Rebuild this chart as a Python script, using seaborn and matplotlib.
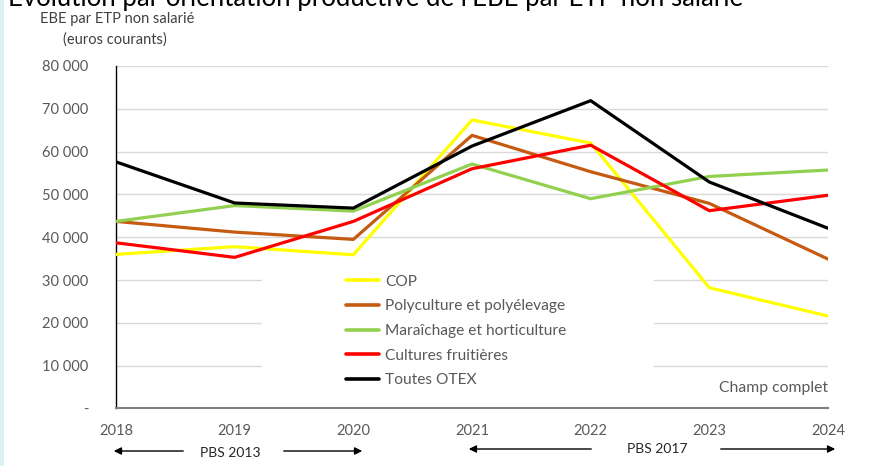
import matplotlib
matplotlib.use("Agg")
import matplotlib.pyplot as plt
import seaborn as sns
import pandas as pd
from matplotlib.patches import Rectangle
from matplotlib.ticker import FuncFormatter

years = [2018, 2019, 2020, 2021, 2022, 2023, 2024]
series_names = ["COP", "Polyculture et polyélevage", "Maraîchage et horticulture",
                "Cultures fruitières", "Toutes OTEX"]
cop = [36000, 37800, 35900, 67400, 62000, 28200, 21600]
polyculture = [43700, 41200, 39500, 63800, 55300, 47900, 34900]
maraichage = [43700, 47400, 46100, 57100, 49000, 54200, 55700]
fruits = [38700, 35300, 43700, 56000, 61500, 46200, 49800]
toutes = [57600, 48000, 46800, 61300, 71900, 52900, 42100]
colors = ["#FFFF00", "#C55A11", "#92D050", "#FF0000", "#000000"]

df = pd.DataFrame({"year": years * 5,
                   "serie": [n for n in series_names for _ in years],
                   "value": cop + polyculture + maraichage + fruits + toutes})

sns.set_theme(style="white")
plt.rcParams["font.family"] = ["Lato", "DejaVu Sans"]

fig = plt.figure(figsize=(8.75, 4.66), dpi=100)
ax = fig.add_axes([0.1326, 0.1234, 0.8137, 0.735])

sns.lineplot(data=df, x="year", y="value", hue="serie", hue_order=series_names,
             palette=colors, linewidth=2.3, ax=ax, zorder=3, legend=True)

ax.set_xlim(2018, 2024)
ax.set_ylim(0, 80000)
ax.set_xticks(years)
ax.set_yticks(range(0, 80001, 10000))
ax.yaxis.set_major_formatter(FuncFormatter(
    lambda v, p: "-" if v == 0 else f"{int(v):,}".replace(",", " ")))
ax.grid(axis="y", color="#D9D9D9", linewidth=1)
ax.set_axisbelow(True)
ax.tick_params(axis="x", length=0, pad=11, labelsize=10.5, labelcolor="#595959")
ax.tick_params(axis="y", length=0, pad=20, labelsize=10.5, labelcolor="#595959")
ax.set_xlabel("")
ax.set_ylabel("")
for s in ["top", "right"]:
    ax.spines[s].set_visible(False)
ax.spines["left"].set_color("#000000")
ax.spines["left"].set_linewidth(1.0)
ax.spines["bottom"].set_color("#7F7F7F")
ax.spines["bottom"].set_linewidth(1.5)

# white legend background hiding the gridlines
ax.add_patch(Rectangle((0.205, 0.02), 0.55, 0.39, transform=ax.transAxes,
                       facecolor="white", edgecolor="none", zorder=1))
leg = ax.legend(loc="upper left", bbox_to_anchor=(0.323, 0.39), frameon=False,
                borderpad=0, borderaxespad=0,
                fontsize=11.2, handlelength=2.1, labelspacing=0.68, handletextpad=0.4)
for t in leg.get_texts():
    t.set_color("#595959")
for h in leg.get_lines():
    h.set_linewidth(2.6)

ax.text(1.0, 0.06, "Champ complet", transform=ax.transAxes, ha="right",
        va="center", fontsize=11.3, color="#595959")

fig.text(0.009, 1 - 6 / 466, "Évolution par orientation productive de l'EBE par ETP non salarié",
         fontsize=18.5, ha="left", va="baseline", color="#000000")
fig.text(117 / 875, 1 - 19 / 466, "EBE par ETP non salarié", fontsize=10.5, ha="center",
         va="center", color="#404040")
fig.text(115 / 875, 1 - 40 / 466, "(euros courants)", fontsize=10.5, ha="center",
         va="center", color="#404040")

# PBS arrows
def arrow(x0, x1, y):
    fig.add_artist(matplotlib.patches.FancyArrowPatch(
        (x0 / 875, 1 - y / 466), (x1 / 875, 1 - y / 466), transform=fig.transFigure,
        arrowstyle="-|>", mutation_scale=11, color="#000000", linewidth=1))

arrow(186, 111, 451)
arrow(281, 365, 451)
arrow(594, 466, 449)
arrow(718, 838, 449)
fig.text(230 / 875, 1 - 453 / 466, "PBS 2013", fontsize=10, ha="center", va="center")
fig.text(657 / 875, 1 - 449 / 466, "PBS 2017", fontsize=10, ha="center", va="center")

# light border on the left edge
fig.add_artist(Rectangle((0, 0), 0.004, 1, transform=fig.transFigure,
                         facecolor="#DDF3F3", edgecolor="none"))

fig.savefig("out.png", dpi=100)
